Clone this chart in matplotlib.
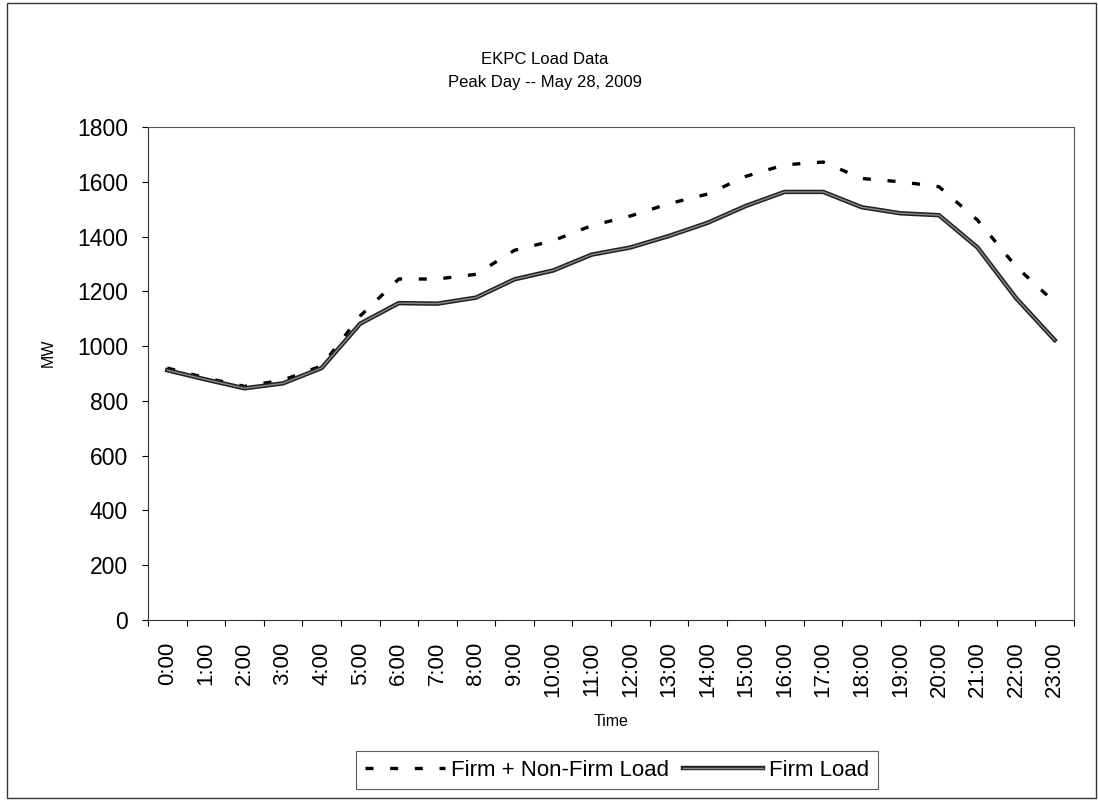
import matplotlib
matplotlib.use("Agg")
import matplotlib.pyplot as plt
import matplotlib.patheffects as pe
from matplotlib.patches import Rectangle
import numpy as np

# hourly load, May 28 2009 (MW)
hours = ["%d:00" % h for h in range(24)]
firm_nonfirm = [920, 884, 853, 876, 928, 1110, 1245, 1245, 1262, 1350, 1385, 1440,
                1475, 1520, 1555, 1620, 1662, 1672, 1612, 1600, 1582, 1460, 1290, 1160]
firm = [912, 878, 846, 864, 920, 1082, 1157, 1155, 1177, 1244, 1276, 1334,
        1360, 1402, 1450, 1512, 1563, 1563, 1507, 1485, 1478, 1360, 1175, 1022]

plt.rcParams['font.family'] = ['Liberation Sans', 'DejaVu Sans']

W, H = 1098, 800
fig = plt.figure(figsize=(W / 100, H / 100), dpi=100)
ax = fig.add_axes([148 / W, 1 - 620 / H, 926 / W, 493 / H])

x = np.arange(len(hours)) + 0.5
ax.plot(x, firm_nonfirm, color='black', lw=2.4, dashes=(2.4, 5.0),
        label='Firm + Non-Firm Load')
ax.plot(x, firm, color='#8a8a8a', lw=1.0, label='Firm Load',
        path_effects=[pe.Stroke(linewidth=3.2, foreground='#222222'), pe.Normal()])

ax.set_xlim(0, 24)
ax.set_ylim(0, 1800)
ax.set_yticks(range(0, 1801, 200))
ax.set_xticks(range(0, 25))
ax.set_xticklabels([])
ax.set_xticks(x, minor=True)
ax.set_xticklabels(hours, minor=True, rotation=90)
ax.tick_params(axis='x', which='minor', length=0, pad=15.5, labelsize=16)
ax.tick_params(axis='x', which='major', direction='out', length=4.5, width=0.8)
ax.tick_params(axis='y', direction='out', length=4.5, width=0.8, labelsize=16.5, pad=10)

for s in ['left', 'bottom']:
    ax.spines[s].set_color('#333333')
for s in ['top', 'right']:
    ax.spines[s].set_color('#555555')

fig.text(48 / W, 1 - 353 / H, 'MW', rotation=90, ha='center', va='center', fontsize=11.5)
fig.text(611 / W, 1 - 722 / H, 'Time', ha='center', va='center', fontsize=11.5)

fig.text(545 / W, 1 - 60 / H, 'EKPC Load Data', ha='center', va='center', fontsize=12)
fig.text(545 / W, 1 - 83 / H, 'Peak Day -- May 28, 2009', ha='center', va='center', fontsize=12)

leg = fig.legend(loc='center', bbox_to_anchor=(617 / W, 1 - 770 / H), ncol=2,
                 fontsize=16, frameon=True, fancybox=False, edgecolor='#333333',
                 handlelength=3.6, handletextpad=0.3, columnspacing=0.6,
                 borderpad=0.4, borderaxespad=0)
leg.get_frame().set_linewidth(0.8)

fig.add_artist(Rectangle((7 / W, 2 / H), 1089 / W, 795 / H, transform=fig.transFigure,
                         fill=False, edgecolor='#333333', lw=1.0))

fig.savefig('out.png', dpi=100)
